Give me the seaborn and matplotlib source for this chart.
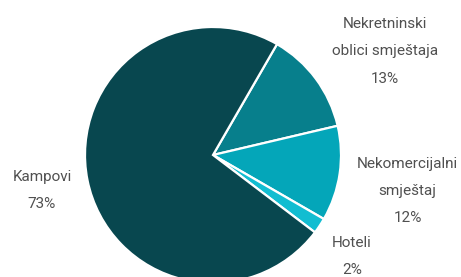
import numpy as np
import seaborn as sns
import matplotlib.pyplot as plt

categories = ["Nekretninski\noblici smještaja", "Nekomercijalni\nsmještaj", "Hoteli", "Kampovi"]
shares = [13, 12, 2, 73]
colors = ["#077f8c", "#04a6b9", "#12bdd1", "#08474f"]

# label anchor points (pie radius = 1)
label_xy = [(1.344, 0.81), (1.52, -0.28), (1.086, -0.79), (-1.336, -0.28)]

sns.set_theme(style="white")
plt.rcParams["font.family"] = ["Roboto", "DejaVu Sans"]

fig = plt.figure(figsize=(4.61, 2.77), dpi=100)
ax = fig.add_axes([0, 0, 1, 1])

ax.pie(shares, colors=colors, startangle=60, counterclock=False,
       wedgeprops=dict(edgecolor="white", linewidth=1.6))

for name, val, (x, y) in zip(categories, shares, label_xy):
    ax.text(x, y, f"{name}\n{val}%", ha="center", va="center",
            fontsize=11, color="#505050", linespacing=2.2)

r = 128
ax.set_xlim(-213 / r, (461 - 213) / r)
ax.set_ylim(-(277 - 155) / r, 155 / r)
ax.set_aspect("equal")
ax.axis("off")

fig.savefig("out.png", dpi=100)
